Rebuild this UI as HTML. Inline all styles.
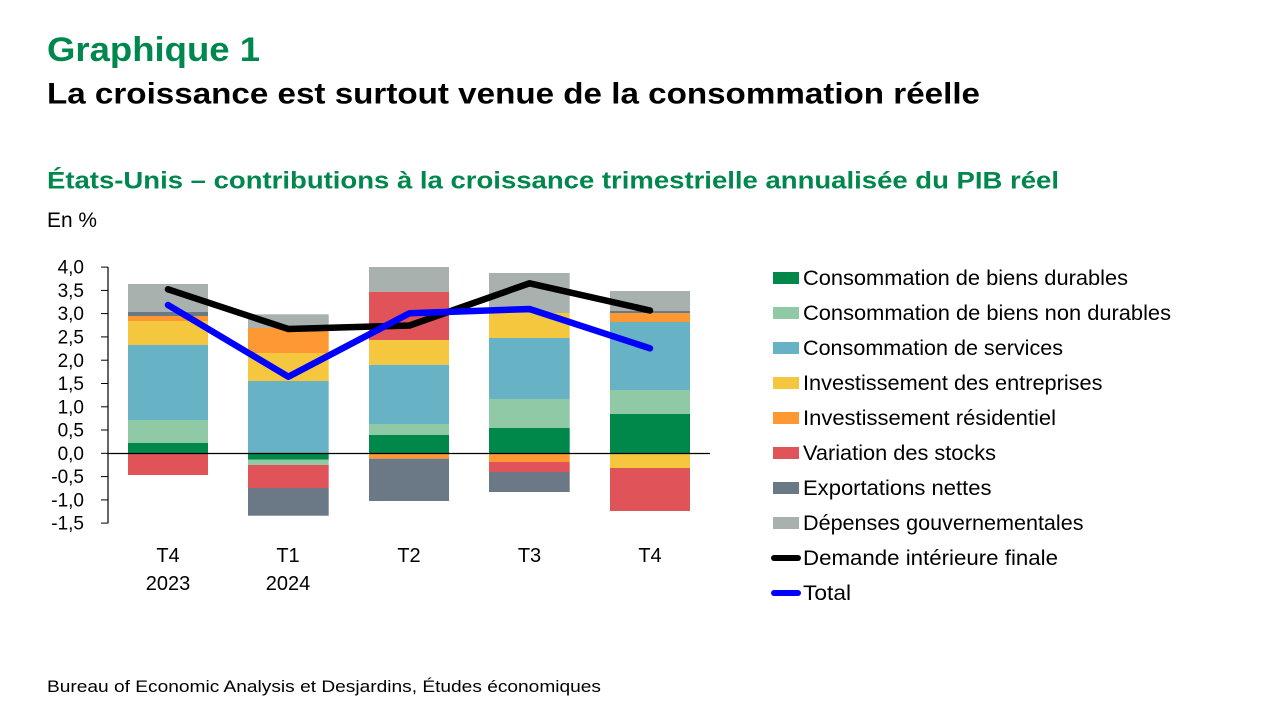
<!DOCTYPE html>
<html>
<head>
<meta charset="utf-8">
<style>
  html, body { margin:0; padding:0; background:#ffffff; }
  body { width:1280px; height:720px; overflow:hidden; }
  svg { display:block; }
  text { font-family: "Liberation Sans", "DejaVu Sans", sans-serif; }
</style>
</head>
<body>
<svg width="1280" height="720" viewBox="0 0 1280 720" xmlns="http://www.w3.org/2000/svg">
  <rect x="0" y="0" width="1280" height="720" fill="#ffffff"/>

  <!-- Titles -->
  <text x="47" y="61" font-size="34" font-weight="bold" fill="#00874e" textLength="213" lengthAdjust="spacingAndGlyphs">Graphique 1</text>
  <text x="47" y="103.5" font-size="30" font-weight="bold" fill="#000000" textLength="933" lengthAdjust="spacingAndGlyphs">La croissance est surtout venue de la consommation réelle</text>
  <text x="47" y="188.5" font-size="24" font-weight="bold" fill="#00874e" textLength="1012" lengthAdjust="spacingAndGlyphs">États-Unis – contributions à la croissance trimestrielle annualisée du PIB réel</text>
  <text x="47" y="227" font-size="21" fill="#000000" textLength="50" lengthAdjust="spacingAndGlyphs">En %</text>

  <!-- Bars -->
  <g>
    <rect x="128" y="443" width="80" height="10.3" fill="#00874a"/>
    <rect x="128" y="420" width="80" height="23" fill="#8fc9a6"/>
    <rect x="128" y="345" width="80" height="75" fill="#67b3c5"/>
    <rect x="128" y="321" width="80" height="24" fill="#f5c73f"/>
    <rect x="128" y="316" width="80" height="5" fill="#fd9833"/>
    <rect x="128" y="312" width="80" height="4" fill="#6b7886"/>
    <rect x="128" y="284" width="80" height="28" fill="#a9b1ae"/>
    <rect x="128" y="453.3" width="80" height="21.7" fill="#e05358"/>
  </g>
  <g>
    <rect x="248" y="381" width="80.7" height="72.3" fill="#67b3c5"/>
    <rect x="248" y="353" width="80.7" height="28" fill="#f5c73f"/>
    <rect x="248" y="328" width="80.7" height="25" fill="#fd9833"/>
    <rect x="248" y="314.3" width="80.7" height="13.7" fill="#a9b1ae"/>
    <rect x="248" y="453.3" width="80.7" height="6.4" fill="#00874a"/>
    <rect x="248" y="459.7" width="80.7" height="5.3" fill="#8fc9a6"/>
    <rect x="248" y="465" width="80.7" height="23" fill="#e05358"/>
    <rect x="248" y="488" width="80.7" height="27.7" fill="#6b7886"/>
  </g>
  <g>
    <rect x="369" y="435" width="80" height="18.3" fill="#00874a"/>
    <rect x="369" y="424" width="80" height="11" fill="#8fc9a6"/>
    <rect x="369" y="364.7" width="80" height="59.3" fill="#67b3c5"/>
    <rect x="369" y="340" width="80" height="24.7" fill="#f5c73f"/>
    <rect x="369" y="292" width="80" height="48" fill="#e05358"/>
    <rect x="369" y="267" width="80" height="25" fill="#a9b1ae"/>
    <rect x="369" y="453.3" width="80" height="5.4" fill="#fd9833"/>
    <rect x="369" y="458.7" width="80" height="42.3" fill="#6b7886"/>
  </g>
  <g>
    <rect x="489" y="428" width="80.7" height="25.3" fill="#00874a"/>
    <rect x="489" y="399" width="80.7" height="29" fill="#8fc9a6"/>
    <rect x="489" y="338" width="80.7" height="61" fill="#67b3c5"/>
    <rect x="489" y="313" width="80.7" height="25" fill="#f5c73f"/>
    <rect x="489" y="273" width="80.7" height="40" fill="#a9b1ae"/>
    <rect x="489" y="453.3" width="80.7" height="8.7" fill="#fd9833"/>
    <rect x="489" y="462" width="80.7" height="10" fill="#e05358"/>
    <rect x="489" y="472" width="80.7" height="20" fill="#6b7886"/>
  </g>
  <g>
    <rect x="610" y="414" width="80" height="39.3" fill="#00874a"/>
    <rect x="610" y="390" width="80" height="24" fill="#8fc9a6"/>
    <rect x="610" y="322" width="80" height="68" fill="#67b3c5"/>
    <rect x="610" y="313" width="80" height="9" fill="#fd9833"/>
    <rect x="610" y="311" width="80" height="2" fill="#6b7886"/>
    <rect x="610" y="291" width="80" height="20" fill="#a9b1ae"/>
    <rect x="610" y="453.3" width="80" height="14.7" fill="#f5c73f"/>
    <rect x="610" y="468" width="80" height="43" fill="#e05358"/>
  </g>

  <!-- Zero line -->
  <line x1="108" y1="453.5" x2="710" y2="453.5" stroke="#000000" stroke-width="1.2"/>

  <!-- Y axis -->
  <line x1="108" y1="267" x2="108" y2="523.3" stroke="#000000" stroke-width="1.2"/>
  <g stroke="#000000" stroke-width="1">
    <line x1="101" y1="267.1" x2="108" y2="267.1"/>
    <line x1="101" y1="290.4" x2="108" y2="290.4"/>
    <line x1="101" y1="313.6" x2="108" y2="313.6"/>
    <line x1="101" y1="336.9" x2="108" y2="336.9"/>
    <line x1="101" y1="360.2" x2="108" y2="360.2"/>
    <line x1="101" y1="383.5" x2="108" y2="383.5"/>
    <line x1="101" y1="406.8" x2="108" y2="406.8"/>
    <line x1="101" y1="430.0" x2="108" y2="430.0"/>
    <line x1="101" y1="453.3" x2="108" y2="453.3"/>
    <line x1="101" y1="476.6" x2="108" y2="476.6"/>
    <line x1="101" y1="499.9" x2="108" y2="499.9"/>
    <line x1="101" y1="523.1" x2="108" y2="523.1"/>
  </g>
  <g font-size="19" fill="#000000" text-anchor="end">
    <text x="84" y="273.7">4,0</text>
    <text x="84" y="297.0">3,5</text>
    <text x="84" y="320.2">3,0</text>
    <text x="84" y="343.5">2,5</text>
    <text x="84" y="366.8">2,0</text>
    <text x="84" y="390.1">1,5</text>
    <text x="84" y="413.4">1,0</text>
    <text x="84" y="436.6">0,5</text>
    <text x="84" y="459.9">0,0</text>
    <text x="84" y="483.2">-0,5</text>
    <text x="84" y="506.5">-1,0</text>
    <text x="84" y="529.7">-1,5</text>
  </g>

  <!-- X labels -->
  <g font-size="20" fill="#000000" text-anchor="middle">
    <text x="168" y="562">T4</text>
    <text x="168" y="590">2023</text>
    <text x="288" y="562">T1</text>
    <text x="288" y="590">2024</text>
    <text x="409" y="562">T2</text>
    <text x="529.5" y="562">T3</text>
    <text x="650" y="562">T4</text>
  </g>

  <!-- Lines -->
  <polyline points="168,289.3 288.3,329 409.5,325.5 529.5,283.3 650,310.5" fill="none" stroke="#000000" stroke-width="6.5" stroke-linecap="round" stroke-linejoin="round"/>
  <polyline points="168,305 288.3,376.7 409.5,313.3 529.5,309 650,348.3" fill="none" stroke="#0000ff" stroke-width="6.5" stroke-linecap="round" stroke-linejoin="round"/>

  <!-- Legend -->
  <g>
    <rect x="773" y="272" width="26" height="12" fill="#00874a"/>
    <rect x="773" y="307" width="26" height="12" fill="#8fc9a6"/>
    <rect x="773" y="342" width="26" height="12" fill="#67b3c5"/>
    <rect x="773" y="377" width="26" height="12" fill="#f5c73f"/>
    <rect x="773" y="412" width="26" height="12" fill="#fd9833"/>
    <rect x="773" y="447" width="26" height="12" fill="#e05358"/>
    <rect x="773" y="482" width="26" height="12" fill="#6b7886"/>
    <rect x="773" y="517" width="26" height="12" fill="#a9b1ae"/>
    <line x1="774" y1="558" x2="798" y2="558" stroke="#000000" stroke-width="6" stroke-linecap="round"/>
    <line x1="774" y1="593" x2="798" y2="593" stroke="#0000ff" stroke-width="6" stroke-linecap="round"/>
  </g>
  <g font-size="21" fill="#000000">
    <text x="803" y="285" textLength="325" lengthAdjust="spacingAndGlyphs">Consommation de biens durables</text>
    <text x="803" y="320" textLength="368" lengthAdjust="spacingAndGlyphs">Consommation de biens non durables</text>
    <text x="803" y="355" textLength="260" lengthAdjust="spacingAndGlyphs">Consommation de services</text>
    <text x="803" y="390" textLength="299.5" lengthAdjust="spacingAndGlyphs">Investissement des entreprises</text>
    <text x="803" y="425" textLength="253" lengthAdjust="spacingAndGlyphs">Investissement résidentiel</text>
    <text x="803" y="460" textLength="193" lengthAdjust="spacingAndGlyphs">Variation des stocks</text>
    <text x="803" y="495" textLength="188.5" lengthAdjust="spacingAndGlyphs">Exportations nettes</text>
    <text x="803" y="530" textLength="280.5" lengthAdjust="spacingAndGlyphs">Dépenses gouvernementales</text>
    <text x="803" y="565" textLength="255" lengthAdjust="spacingAndGlyphs">Demande intérieure finale</text>
    <text x="803" y="600" textLength="48" lengthAdjust="spacingAndGlyphs">Total</text>
  </g>

  <!-- Footer -->
  <text x="47" y="692" font-size="17" fill="#000000" textLength="554" lengthAdjust="spacingAndGlyphs">Bureau of Economic Analysis et Desjardins, Études économiques</text>
</svg>
</body>
</html>
